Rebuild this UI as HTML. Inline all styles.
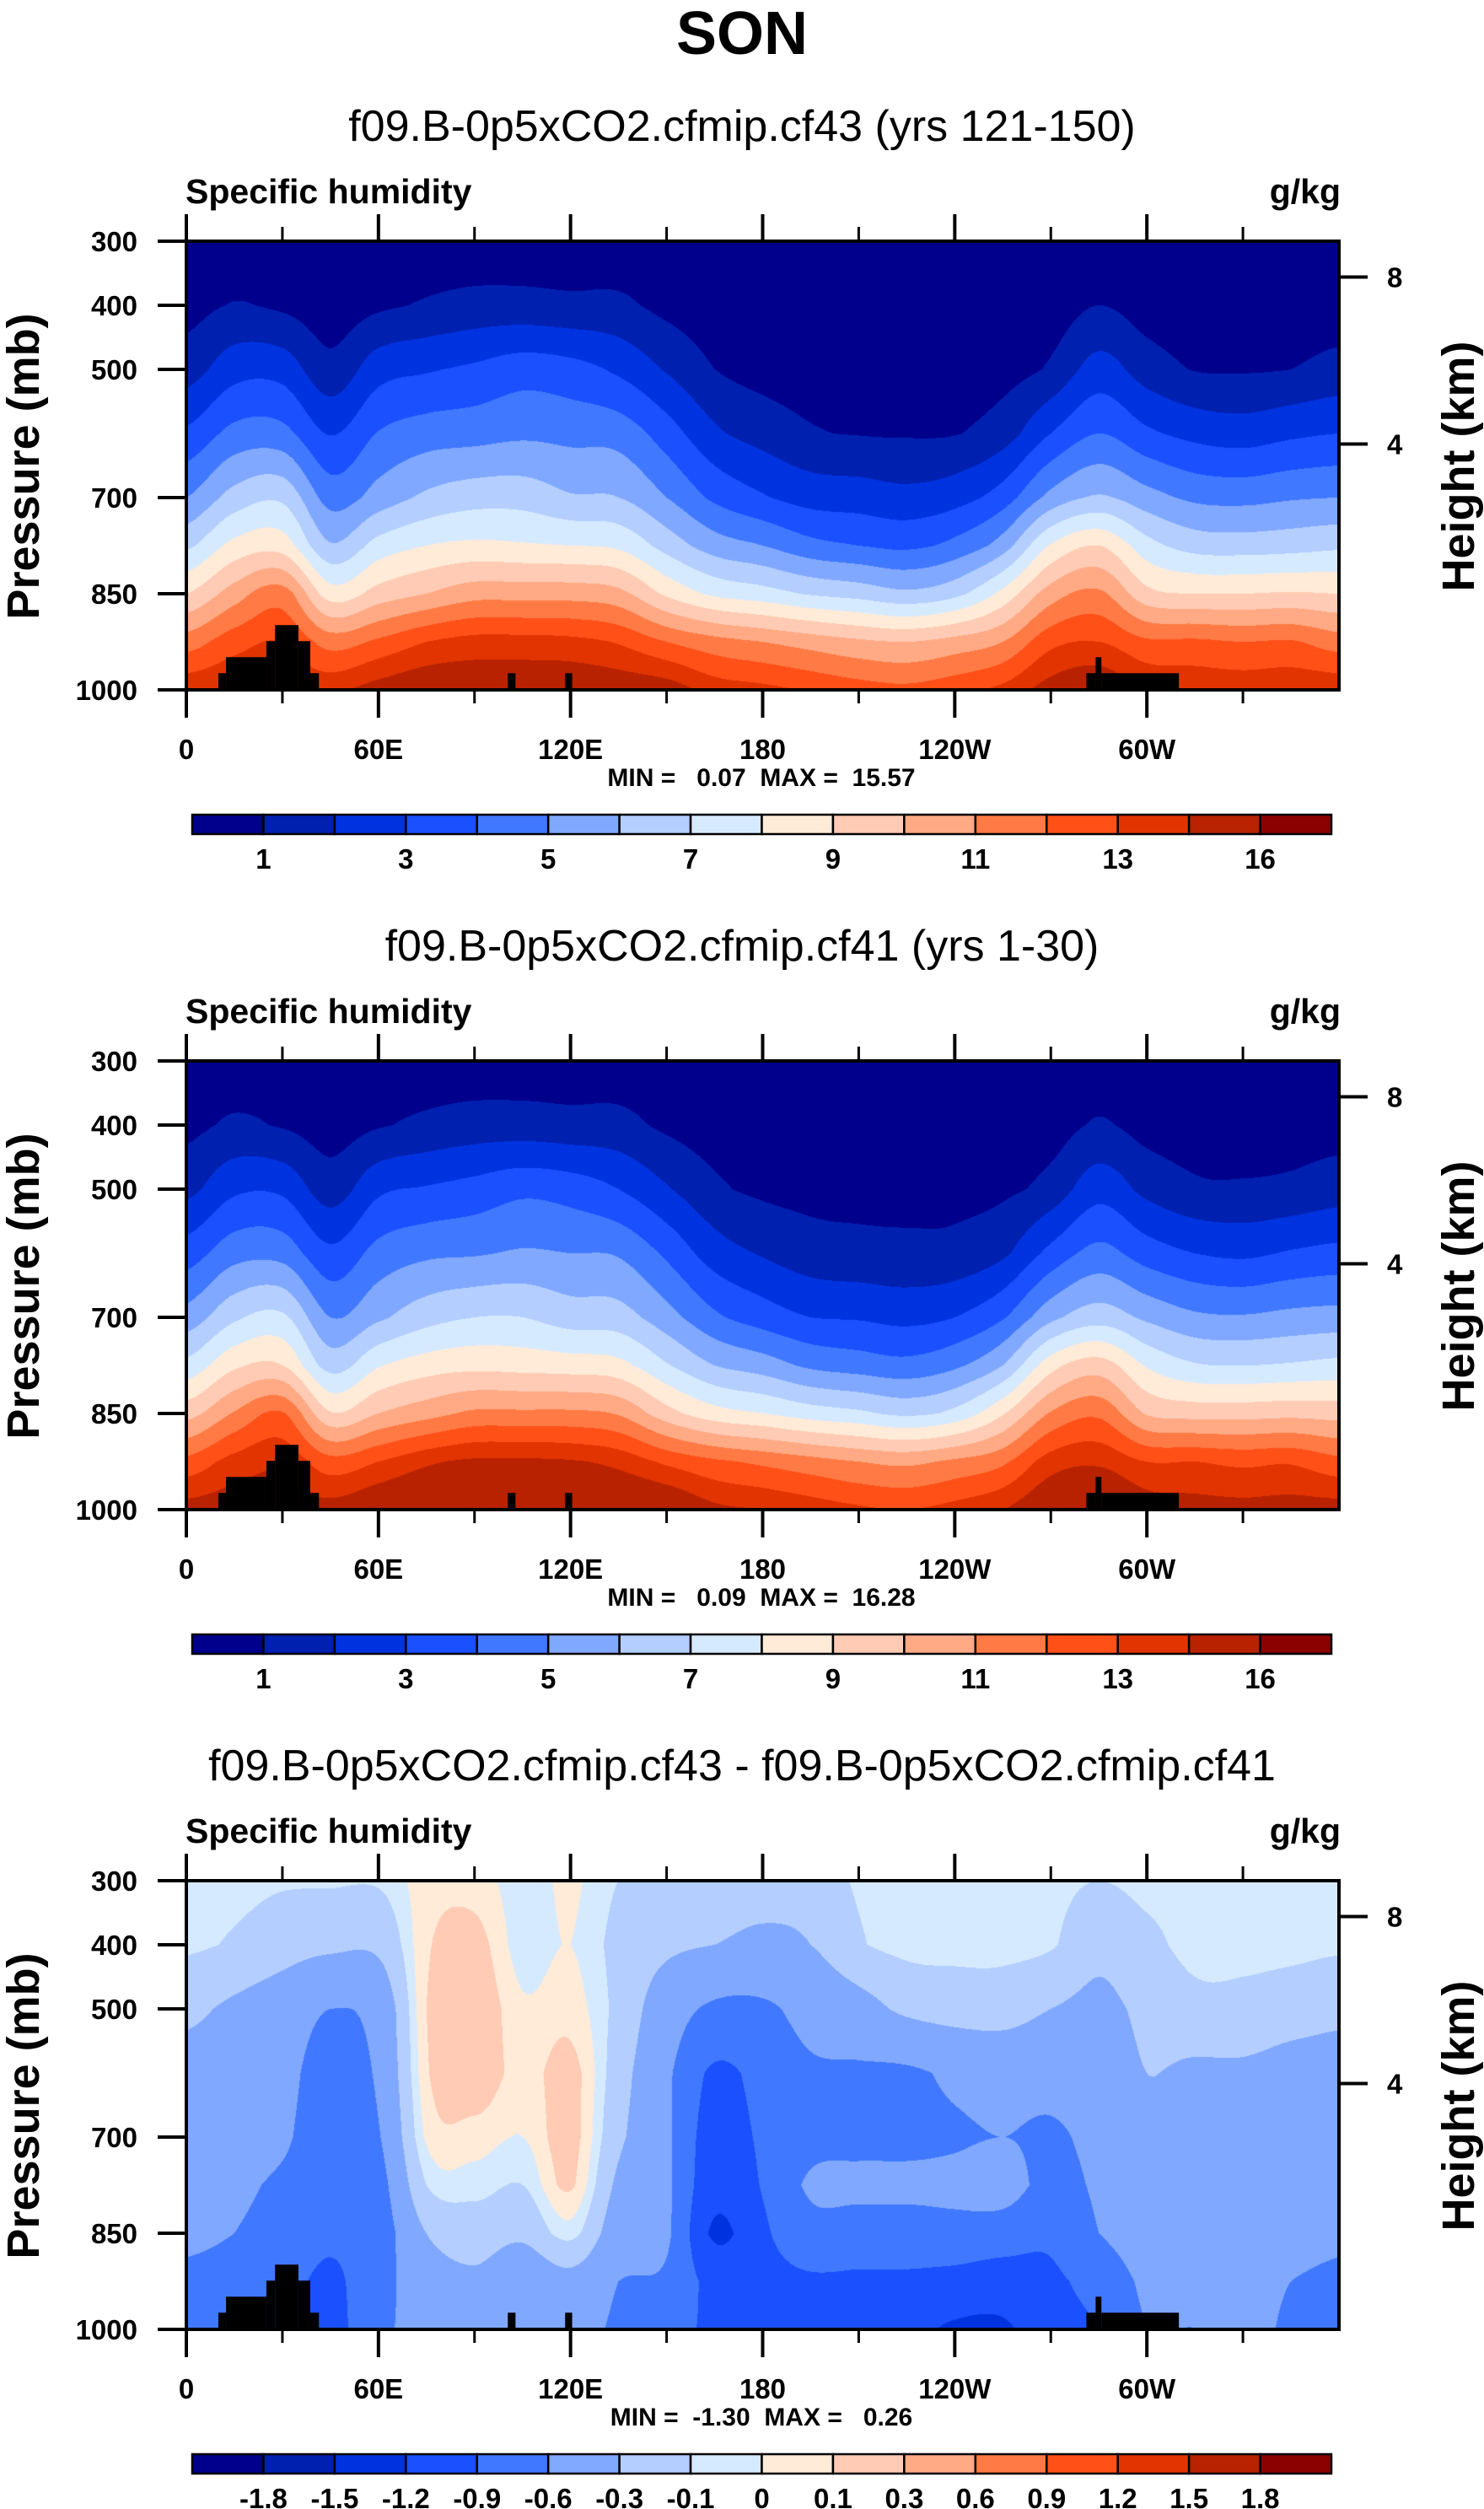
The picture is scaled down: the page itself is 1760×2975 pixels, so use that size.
<!DOCTYPE html>
<html><head><meta charset="utf-8">
<style>
html,body{margin:0;padding:0;background:#fff;}
#page{position:relative;width:1760px;height:2975px;overflow:hidden;background:#fff;font-family:"Liberation Sans",Arial,sans-serif;}
canvas{position:absolute;}
svg{position:absolute;left:0;top:0;}
text{font-family:"Liberation Sans",Arial,sans-serif;}
</style></head>
<body>
<div id="page">
<svg id="svg" width="1760" height="2975">
<text x="880" y="64" text-anchor="middle" font-size="72" font-weight="bold">SON</text>
</svg>
</div>
<script>
// ---- data ----
const lonGrid = [0,15,30,45,60,75,90,105,120,135,150,165,180,195,210,225,240,255,270,285,300,315,330,345,360];
const presGrid = [300,400,500,600,700,775,850,925,1000];
// specific humidity (g/kg), one column per longitude, rows = presGrid
const qCf43 = [
[.3,.6,1.5,3.2,5.0,6.8,9.0,11.5,13.8],
[.3,1.05,2.6,4.3,6.4,8.3,10.5,12.6,14],
[.3,.8,2.6,4.3,6.8,8.5,11.5,13,14],
[.2,.4,1.3,2.95,4.6,6.1,8.5,11.6,13.8],
[.3,.8,2.6,4.06,5.4,7.4,9.4,12.2,14.5],
[.3,1.1,2.9,4.5,6.2,8.0,10,13,15],
[.3,1.3,3.2,4.6,6.6,8.2,10.6,13.4,15],
[.3,1.3,3.6,4.8,6.6,8.1,10.6,13.4,15],
[.3,1.2,3.4,4.7,6.1,8.0,10.6,13.3,15],
[.3,1.2,2.8,4.6,6.0,7.8,10.3,12.9,14.8],
[.2,.7,1.9,3.5,5.0,6.6,8.8,12,14.6],
[.2,.4,1.0,2.2,3.8,5.5,7.8,11.4,13.6],
[.2,.3,.6,1.6,3.1,5.0,7.4,11,13.3],
[.2,.3,.5,1.1,2.6,4.3,6.9,10.6,12.9],
[.2,.3,.5,.95,2.5,4.0,6.6,10.2,12.5],
[.2,.3,.5,.9,2.3,3.8,6.2,10.0,12.3],
[.2,.3,.5,.95,2.6,4.3,6.7,10.4,12.7],
[.2,.3,.6,1.5,3.5,5.5,8.3,11,13.3],
[.2,.4,1.15,3.0,5.3,8.1,10.5,12.7,14.5],
[.3,1.0,2.4,4.0,6.1,9.0,11.2,13,15],
[.2,.5,1.5,3.2,5.4,7.4,9.3,12.2,14],
[.2,.4,.95,2.7,4.8,6.6,9.0,12.2,13.8],
[.2,.4,.9,2.5,4.7,6.5,9.0,12.0,13.7],
[.2,.4,1.0,2.8,4.9,6.6,9.1,12.1,13.8],
[.2,.45,1.3,3.0,5.0,6.8,9.0,11.5,13.8]
];
const qCf41 = [
[.35,.7,1.7,3.5,5.4,7.3,9.6,12.3,14.5],
[.35,1.15,2.8,4.6,6.8,8.8,11.1,13.4,14.7],
[.35,.9,2.8,4.6,7.2,9.0,12.1,13.8,14.7],
[.25,.5,1.5,3.25,5.0,6.6,9.1,12.4,14.5],
[.35,.9,2.8,4.36,5.8,7.9,10.0,13.0,15.2],
[.35,1.2,3.1,4.8,6.6,8.5,10.6,13.8,15.7],
[.35,1.4,3.4,4.9,7.0,8.7,11.2,14.2,15.7],
[.35,1.4,3.8,5.1,7.0,8.6,11.2,14.2,15.7],
[.35,1.3,3.6,5.0,6.5,8.5,11.2,14.1,15.7],
[.35,1.3,3.0,4.9,6.4,8.3,10.9,13.7,15.5],
[.25,.8,2.1,3.8,5.4,7.1,9.4,12.8,15.3],
[.25,.5,1.2,2.5,4.2,6.0,8.4,12.2,14.3],
[.25,.4,.8,1.9,3.5,5.5,8.0,11.8,14.0],
[.25,.4,.7,1.4,3.0,4.8,7.5,11.4,13.6],
[.25,.4,.7,1.25,2.9,4.5,7.2,11.0,13.2],
[.25,.4,.7,1.2,2.7,4.3,6.8,10.8,13.0],
[.25,.4,.7,1.25,3.0,4.8,7.3,11.2,13.4],
[.25,.4,.8,1.8,3.9,6.0,8.9,11.8,14.0],
[.25,.5,1.35,3.3,5.7,8.6,11.1,13.5,15.2],
[.35,1.1,2.6,4.3,6.5,9.5,11.8,13.8,15.7],
[.25,.6,1.7,3.5,5.8,7.9,9.9,13.0,14.7],
[.25,.5,1.15,3.0,5.2,7.1,9.6,13.0,14.5],
[.25,.5,1.1,2.8,5.1,7.0,9.6,12.8,14.4],
[.25,.5,1.2,3.1,5.3,7.1,9.7,12.9,14.5],
[.25,.55,1.5,3.3,5.4,7.3,9.6,12.3,14.5]
];
const qDiff = [
[-.05,-.07,-.25,-.4,-.45,-.5,-.55,-.65,-.7],
[-.05,-.12,-.35,-.45,-.5,-.55,-.6,-.7,-.75],
[-.08,-.2,-.45,-.5,-.55,-.65,-.7,-.8,-.8],
[-.08,-.25,-.6,-.75,-.8,-.8,-.85,-.95,-1.0],
[-.08,-.25,-.5,-.55,-.62,-.7,-.75,-.7,-.65],
[.05,.08,.1,.08,.02,-.1,-.3,-.45,-.55],
[.05,.15,.2,.2,.05,-.05,-.2,-.35,-.4],
[-.05,-.05,.02,.05,0,-.1,-.25,-.5,-.55],
[.02,0,.05,.15,.15,.12,-.05,-.4,-.5],
[-.1,-.15,-.15,-.2,-.25,-.35,-.45,-.6,-.65],
[-.1,-.25,-.45,-.55,-.55,-.55,-.55,-.65,-.8],
[-.15,-.3,-.65,-.95,-1.05,-1.1,-1.25,-1.0,-.95],
[-.2,-.35,-.65,-.8,-.85,-.88,-.95,-1.0,-1.0],
[-.2,-.3,-.5,-.65,-.7,-.55,-.7,-.95,-1.0],
[-.08,-.12,-.4,-.65,-.7,-.5,-.75,-.95,-1.0],
[-.05,-.05,-.25,-.65,-.7,-.5,-.75,-.95,-1.1],
[-.05,-.05,-.2,-.55,-.65,-.5,-.7,-1.0,-1.25],
[-.05,-.05,-.2,-.5,-.6,-.45,-.75,-1.05,-1.25],
[-.05,-.08,-.3,-.5,-.65,-.7,-.85,-.95,-1.0],
[-.1,-.25,-.35,-.45,-.5,-.55,-.6,-.8,-.9],
[-.05,-.15,-.25,-.3,-.35,-.4,-.45,-.55,-.6],
[-.05,-.05,-.15,-.35,-.4,-.4,-.45,-.55,-.6],
[-.05,-.05,-.15,-.35,-.4,-.4,-.45,-.5,-.5],
[-.05,-.05,-.2,-.4,-.45,-.45,-.5,-.6,-.65],
[-.05,-.07,-.25,-.4,-.45,-.5,-.55,-.65,-.7]
];
const levelsQ = [1,2,3,4,5,6,7,8,9,10,11,12,13,14,16];
const labelsQ = ["1","3","5","7","9","11","13","16"];
const levelsD = [-1.8,-1.5,-1.2,-0.9,-0.6,-0.3,-0.1,0,0.1,0.3,0.6,0.9,1.2,1.5,1.8];
const labelsD = ["-1.8","-1.5","-1.2","-0.9","-0.6","-0.3","-0.1","0","0.1","0.3","0.6","0.9","1.2","1.5","1.8"];
const palette = ["#00008c","#0020b0","#0033e0","#1a50ff","#4078ff","#80a8ff","#b3ceff","#d6eaff","#ffebd8","#ffcbb4","#ffaa84","#ff7a44","#ff5018","#e23400","#b82200","#8b0000"];
const landStart = [10,12.4,25,27.7,35,38.7,100.4,118.3,281.1,284.0,285.8];
const landEnd   = [12.4,25,27.7,35,38.7,41.4,102.8,120.5,284.0,285.8,310];
const landTop   = [974,949,924,899,924,974,974,974,974,949,974];
const presTicks = [300,400,500,700,850,1000];
const heightTicks = [8,4];
const lonTicks = [0,60,120,180,240,300];
const lonTickLabels = ["0","60E","120E","180","120W","60W"];
const minorLon = [30,90,150,210,270,330];
const titles = ["f09.B-0p5xCO2.cfmip.cf43 (yrs 121-150)","f09.B-0p5xCO2.cfmip.cf41 (yrs 1-30)","f09.B-0p5xCO2.cfmip.cf43 - f09.B-0p5xCO2.cfmip.cf41"];
const minVals = ["0.07","0.09","-1.30"];
const maxVals = ["15.57","16.28","0.26"];

// ---- layout ----
const PL=221, PR=1588, PT=286, PH=532;
const PW=PR-PL;
const OFFS=[0,972,1944];
const NS="http://www.w3.org/2000/svg";
const svg=document.getElementById('svg');
const page=document.getElementById('page');
function xOf(lon){return PL+lon/360*PW;}
function yOf(p,o){return o+PT+(p-300)/700*PH;}
function el(tag,attrs,parent){const e=document.createElementNS(NS,tag);for(const k in attrs)e.setAttribute(k,attrs[k]);(parent||svg).appendChild(e);return e;}
function hex(c){return [parseInt(c.substr(1,2),16),parseInt(c.substr(3,2),16),parseInt(c.substr(5,2),16)];}
const rgb=palette.map(hex);
function cr(p0,p1,p2,p3,t){return 0.5*((2*p1)+(-p0+p2)*t+(2*p0-5*p1+4*p2-p3)*t*t+(-p0+3*p1-3*p2+p3)*t*t*t);}
function sample(field,lon,p){
  let i=Math.min(Math.floor(lon/15),23);let t=(lon-lonGrid[i])/15;
  let j=0;while(j<presGrid.length-2&&p>presGrid[j+1])j++;
  let u=(p-presGrid[j])/(presGrid[j+1]-presGrid[j]);
  const col=k=>{const c=field[Math.max(0,Math.min(24,k))];return c[j]*(1-u)+c[j+1]*u;};
  return cr(col(i-1),col(i),col(i+1),col(i+2),t);
}
function pHeight(z){return 1013.25*Math.pow(1-2.25577e-5*z*1000,5.25588);}

function drawPanel(n,field,levels,labels){
  const o=OFFS[n];
  const names=["top","middle","bottom"][n];
  const cv=document.createElement('canvas');
  cv.width=PW;cv.height=PH;cv.style.left=PL+'px';cv.style.top=(o+PT)+'px';
  
  
  page.insertBefore(cv,svg);
  const ctx=cv.getContext('2d');const img=ctx.createImageData(PW,PH);
  for(let y=0;y<PH;y++){const p=300+(y+0.5)/PH*700;
    for(let x=0;x<PW;x++){const lon=(x+0.5)/PW*360;const v=sample(field,lon,p);
      let k=0;while(k<levels.length&&v>=levels[k])k++;
      const c=rgb[k];const q=(y*PW+x)*4;img.data[q]=c[0];img.data[q+1]=c[1];img.data[q+2]=c[2];img.data[q+3]=255;}}
  ctx.putImageData(img,0,0);
  const g=el('g',{});
  
  
  for(let i=0;i<landStart.length;i++){
    const r=el('rect',{x:xOf(landStart[i]),y:yOf(landTop[i],o),width:xOf(landEnd[i])-xOf(landStart[i]),height:yOf(1000,o)-yOf(landTop[i],o),fill:'#000'},g);
    
    
  }
  const f=el('rect',{x:PL,y:o+PT,width:PW,height:PH,fill:'none',stroke:'#000','stroke-width':4},g);
  
  
  presTicks.forEach(p=>{
    el('line',{x1:187,x2:PL,y1:yOf(p,o),y2:yOf(p,o),stroke:'#000','stroke-width':4},g);
    const t=el('text',{x:163,y:yOf(p,o)+12,'text-anchor':'end','font-size':33,'font-weight':'bold'},g);t.textContent=p;
    
    
  });
  heightTicks.forEach(h=>{
    const yy=yOf(pHeight(h),o);
    el('line',{x1:PR,x2:1622,y1:yy,y2:yy,stroke:'#000','stroke-width':4},g);
    const t=el('text',{x:1645,y:yy+12,'font-size':33,'font-weight':'bold'},g);t.textContent=h;
    
    
  });
  lonTicks.forEach((l,i)=>{
    const xx=xOf(l);
    el('line',{x1:xx,x2:xx,y1:o+254,y2:o+PT,stroke:'#000','stroke-width':4},g);
    el('line',{x1:xx,x2:xx,y1:o+PT+PH,y2:o+851,stroke:'#000','stroke-width':4},g);
    const t=el('text',{x:xx,y:o+900,'text-anchor':'middle','font-size':33,'font-weight':'bold'},g);t.textContent=lonTickLabels[i];
    
    
  });
  minorLon.forEach(l=>{const xx=xOf(l);
    el('line',{x1:xx,x2:xx,y1:o+269,y2:o+PT,stroke:'#000','stroke-width':3},g);
    el('line',{x1:xx,x2:xx,y1:o+PT+PH,y2:o+834,stroke:'#000','stroke-width':3},g);});
  let t=el('text',{x:880,y:o+167,'text-anchor':'middle','font-size':52},g);t.textContent=titles[n];
  
  
  t=el('text',{x:PL-1,y:o+241,'font-size':41,'font-weight':'bold'},g);t.textContent="Specific humidity";
  
  
  t=el('text',{x:PR+2,y:o+241,'text-anchor':'end','font-size':41,'font-weight':'bold'},g);t.textContent="g/kg";
  
  
  t=el('text',{x:0,y:0,'text-anchor':'middle','font-size':54,'font-weight':'bold',transform:`translate(46,${o+553}) rotate(-90)`},g);t.textContent="Pressure (mb)";
  
  
  t=el('text',{x:0,y:0,'text-anchor':'middle','font-size':54,'font-weight':'bold',transform:`translate(1748,${o+553}) rotate(-90)`},g);t.textContent="Height (km)";
  
  
  t=el('text',{x:903,y:o+932,'text-anchor':'middle','font-size':30,'font-weight':'bold','xml:space':'preserve'},g);
  t.textContent="MIN = "+(minVals[n].startsWith('-')?" ":"  ")+minVals[n]+"  MAX = "+(maxVals[n].length<5?"  ":" ")+maxVals[n];
  t.style.whiteSpace='pre';
  
  
  const cb=el('g',{},g);
  
  
  const cx0=228,cx1=1579,cy=o+966,ch=23,bw=(cx1-cx0)/16;
  palette.forEach((c,i)=>{
    const r=el('rect',{x:cx0+i*bw,y:cy,width:bw,height:ch,fill:c,stroke:'#000','stroke-width':2.5},cb);
    
    
  });
  const step=labels.length===8?2:1;
  labels.forEach((lb,i)=>{
    const xx=cx0+(i*step+1)*bw;
    const tt=el('text',{x:xx,y:o+1030,'text-anchor':'middle','font-size':33,'font-weight':'bold'},cb);tt.textContent=lb;
    
    
  });
}
drawPanel(0,qCf43,levelsQ,labelsQ);
drawPanel(1,qCf41,levelsQ,labelsQ);
drawPanel(2,qDiff,levelsD,labelsD);
</script>
</body></html>
